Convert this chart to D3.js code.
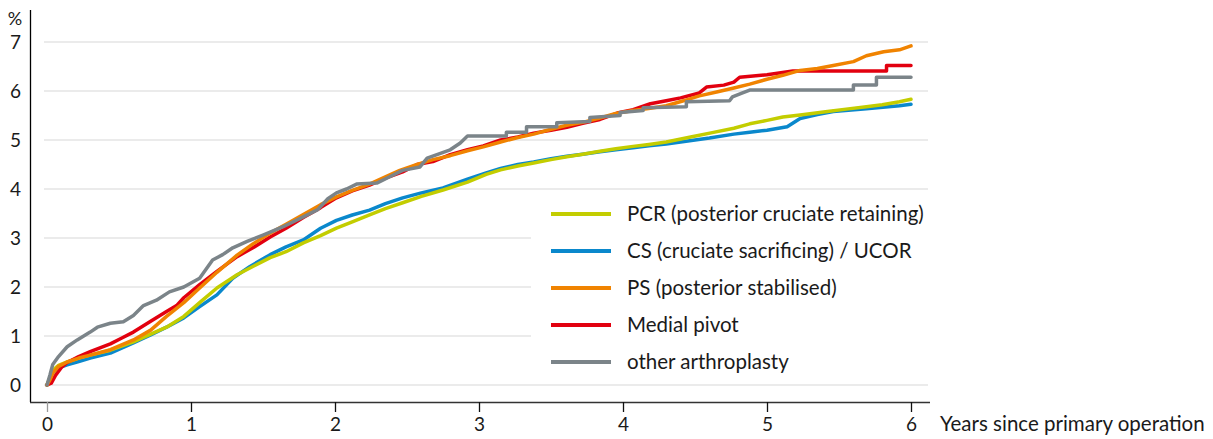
<!DOCTYPE html>
<html>
<head>
<meta charset="utf-8">
<script src="https://cdn.jsdelivr.net/npm/d3@7"></script>
<style>
  html, body { margin: 0; padding: 0; background: #fff; }
  svg { display: block; font-family: Lato, "Noto Sans", sans-serif; }
</style>
</head>
<body>
<svg id="chart" width="1213" height="439"></svg>
<script>
// Cumulative revision rate (%) by years since primary operation, per design type
const xTicks = [0, 1, 2, 3, 4, 5, 6];
const yTicks = [0, 1, 2, 3, 4, 5, 6, 7];

const seriesNames = [
  "PCR (posterior cruciate retaining)",
  "CS (cruciate sacrificing) / UCOR",
  "PS (posterior stabilised)",
  "Medial pivot",
  "other arthroplasty"
];
const seriesColors = ["#c3cd00", "#0a88cc", "#f08300", "#e2000f", "#7b8489"];

// [years, percent]
const pcr = [[0,0],[0.02,0.15],[0.04,0.3],[0.08,0.4],[0.14,0.47],[0.22,0.55],[0.30,0.61],[0.44,0.71],[0.60,0.88],[0.72,1.04],[0.83,1.18],[0.95,1.40],[1.06,1.68],[1.18,1.98],[1.32,2.25],[1.45,2.45],[1.55,2.6],[1.66,2.72],[1.78,2.9],[1.90,3.05],[2.01,3.2],[2.12,3.33],[2.24,3.47],[2.35,3.6],[2.47,3.72],[2.60,3.85],[2.75,3.98],[2.92,4.14],[3.05,4.3],[3.15,4.39],[3.27,4.47],[3.38,4.53],[3.5,4.6],[3.61,4.66],[3.72,4.71],[3.84,4.77],[3.95,4.82],[4.07,4.87],[4.18,4.91],[4.30,4.96],[4.47,5.06],[4.62,5.15],[4.77,5.24],[4.88,5.33],[5.0,5.40],[5.11,5.47],[5.23,5.51],[5.42,5.58],[5.55,5.63],[5.69,5.68],[5.80,5.72],[5.92,5.78],[6.0,5.83]];

const cs = [[0,0],[0.02,0.12],[0.04,0.25],[0.08,0.35],[0.14,0.41],[0.22,0.48],[0.30,0.55],[0.44,0.65],[0.60,0.86],[0.72,1.02],[0.83,1.18],[0.95,1.37],[1.06,1.6],[1.18,1.84],[1.29,2.18],[1.41,2.42],[1.55,2.66],[1.66,2.82],[1.78,2.96],[1.90,3.2],[2.01,3.36],[2.12,3.47],[2.24,3.57],[2.35,3.7],[2.47,3.82],[2.60,3.92],[2.75,4.02],[2.92,4.2],[3.05,4.33],[3.15,4.42],[3.27,4.5],[3.38,4.55],[3.5,4.62],[3.61,4.67],[3.72,4.71],[3.84,4.76],[3.95,4.8],[4.07,4.84],[4.18,4.88],[4.30,4.92],[4.45,4.98],[4.6,5.04],[4.77,5.12],[4.88,5.16],[5.0,5.2],[5.14,5.27],[5.23,5.44],[5.35,5.52],[5.46,5.58],[5.69,5.64],[5.92,5.7],[6.0,5.73]];

const ps = [[0,0],[0.02,0.1],[0.04,0.24],[0.08,0.38],[0.14,0.47],[0.22,0.55],[0.30,0.61],[0.44,0.72],[0.60,0.92],[0.72,1.12],[0.83,1.40],[0.95,1.68],[1.06,1.98],[1.18,2.3],[1.32,2.65],[1.43,2.88],[1.55,3.1],[1.66,3.28],[1.78,3.48],[1.90,3.68],[2.01,3.84],[2.12,3.97],[2.24,4.1],[2.35,4.25],[2.45,4.38],[2.57,4.5],[2.68,4.6],[2.80,4.68],[2.92,4.78],[3.03,4.86],[3.15,4.96],[3.27,5.05],[3.38,5.12],[3.5,5.22],[3.61,5.3],[3.72,5.36],[3.84,5.45],[3.95,5.54],[4.07,5.6],[4.19,5.65],[4.30,5.7],[4.42,5.8],[4.53,5.9],[4.65,5.98],[4.77,6.06],[4.88,6.14],[5.0,6.24],[5.11,6.32],[5.23,6.42],[5.35,6.46],[5.46,6.52],[5.60,6.6],[5.69,6.72],[5.81,6.8],[5.92,6.84],[6.0,6.92]];

const medialPivot = [[0,0],[0.03,0.04],[0.06,0.2],[0.10,0.36],[0.14,0.46],[0.22,0.58],[0.30,0.68],[0.44,0.84],[0.52,0.96],[0.60,1.08],[0.72,1.3],[0.83,1.5],[0.90,1.62],[0.95,1.78],[1.06,2.05],[1.18,2.32],[1.32,2.62],[1.43,2.8],[1.55,3.02],[1.66,3.2],[1.78,3.42],[1.90,3.62],[2.01,3.82],[2.12,3.96],[2.24,4.08],[2.35,4.22],[2.47,4.35],[2.57,4.5],[2.68,4.56],[2.80,4.7],[2.92,4.8],[3.03,4.88],[3.15,5.0],[3.27,5.06],[3.38,5.14],[3.5,5.2],[3.61,5.26],[3.72,5.34],[3.84,5.42],[3.96,5.55],[4.07,5.62],[4.19,5.74],[4.30,5.8],[4.40,5.86],[4.53,5.96],[4.58,6.08],[4.70,6.12],[4.77,6.18],[4.81,6.28],[5.0,6.33],[5.18,6.41],[5.83,6.41],[5.83,6.52],[6.0,6.52]];

const other = [[0,0],[0.02,0.2],[0.04,0.42],[0.08,0.58],[0.14,0.78],[0.21,0.92],[0.30,1.08],[0.35,1.18],[0.44,1.26],[0.53,1.29],[0.60,1.42],[0.67,1.62],[0.76,1.73],[0.85,1.9],[0.95,2.0],[1.06,2.18],[1.15,2.55],[1.22,2.66],[1.29,2.8],[1.39,2.93],[1.50,3.06],[1.64,3.23],[1.78,3.43],[1.88,3.58],[1.95,3.8],[2.01,3.92],[2.08,4.0],[2.15,4.1],[2.29,4.12],[2.38,4.25],[2.47,4.38],[2.59,4.45],[2.64,4.63],[2.80,4.8],[2.87,4.94],[2.92,5.08],[3.19,5.08],[3.19,5.16],[3.33,5.16],[3.33,5.27],[3.54,5.27],[3.54,5.35],[3.77,5.38],[3.77,5.46],[3.98,5.5],[3.98,5.56],[4.14,5.6],[4.14,5.66],[4.44,5.68],[4.44,5.78],[4.74,5.8],[4.76,5.88],[4.83,5.96],[4.88,6.02],[5.60,6.02],[5.60,6.12],[5.76,6.12],[5.76,6.28],[6.0,6.28]];

const seriesData = [pcr, cs, ps, medialPivot, other];

const svg = d3.select("#chart");
const x = d3.scaleLinear().domain([0, 6]).range([47, 911]);
const y = d3.scaleLinear().domain([0, 7]).range([385, 42]);

// horizontal gridlines
svg.append("g").selectAll("line").data(yTicks).join("line")
  .attr("x1", 44).attr("x2", 928)
  .attr("y1", d => y(d)).attr("y2", d => y(d))
  .attr("stroke", "#ebebeb").attr("stroke-width", 2.2);

// y labels
svg.append("g").selectAll("text").data(yTicks).join("text")
  .attr("x", 21).attr("y", d => y(d)).attr("dy", "0.36em")
  .attr("text-anchor", "end").attr("font-size", 19).attr("fill", "#1a1a1a")
  .text(d => d);
svg.append("text").attr("x", 15).attr("y", 25).attr("text-anchor", "middle")
  .attr("font-size", 18).attr("fill", "#1a1a1a").text("%");

// y axis line
svg.append("line").attr("x1", 30.5).attr("x2", 30.5).attr("y1", 10).attr("y2", 402)
  .attr("stroke", "#000").attr("stroke-width", 1.3);

// x axis
const xAxis = svg.append("g").attr("transform", "translate(0,402)")
  .call(d3.axisBottom(x).tickValues(xTicks).tickSize(10).tickPadding(6).tickFormat(d3.format("d")));
xAxis.select(".domain").attr("d", "M30,0.5H930").attr("stroke", "#333").attr("stroke-width", 1.3);
xAxis.selectAll(".tick line").attr("stroke", d => d === 0 ? "#999" : "#111").attr("stroke-width", 1.3);
xAxis.selectAll(".tick text").attr("font-size", 19).attr("fill", "#1a1a1a")
  .attr("font-family", "Lato, 'Noto Sans', sans-serif");
svg.append("text").attr("x", 940).attr("y", 431).attr("font-size", 20.5).attr("fill", "#1a1a1a")
  .text("Years since primary operation");

// legend background hides gridlines behind it
svg.append("rect").attr("x", 531).attr("y", 196).attr("width", 400).attr("height", 182).attr("fill", "#fff");

// curves
const line = d3.line().x(d => x(d[0])).y(d => y(d[1])).curve(d3.curveLinear);
const drawOrder = [1, 0, 3, 2, 4];
svg.append("g").selectAll("path").data(drawOrder).join("path")
  .attr("d", i => line(seriesData[i]))
  .attr("fill", "none")
  .attr("stroke", i => seriesColors[i])
  .attr("stroke-width", 3.5)
  .attr("stroke-linejoin", "round")
  .attr("stroke-linecap", "round");

// legend
const legend = svg.append("g").selectAll("g").data(seriesNames).join("g")
  .attr("transform", (d, i) => `translate(551, ${214 + i * 37})`);
legend.append("line").attr("x1", 0).attr("x2", 60).attr("y1", 0).attr("y2", 0)
  .attr("stroke", (d, i) => seriesColors[i]).attr("stroke-width", 4);
legend.append("text").attr("x", 76).attr("y", 0).attr("dy", "0.35em")
  .attr("font-size", 20.5).attr("fill", "#1a1a1a").text(d => d);
</script>
</body>
</html>
